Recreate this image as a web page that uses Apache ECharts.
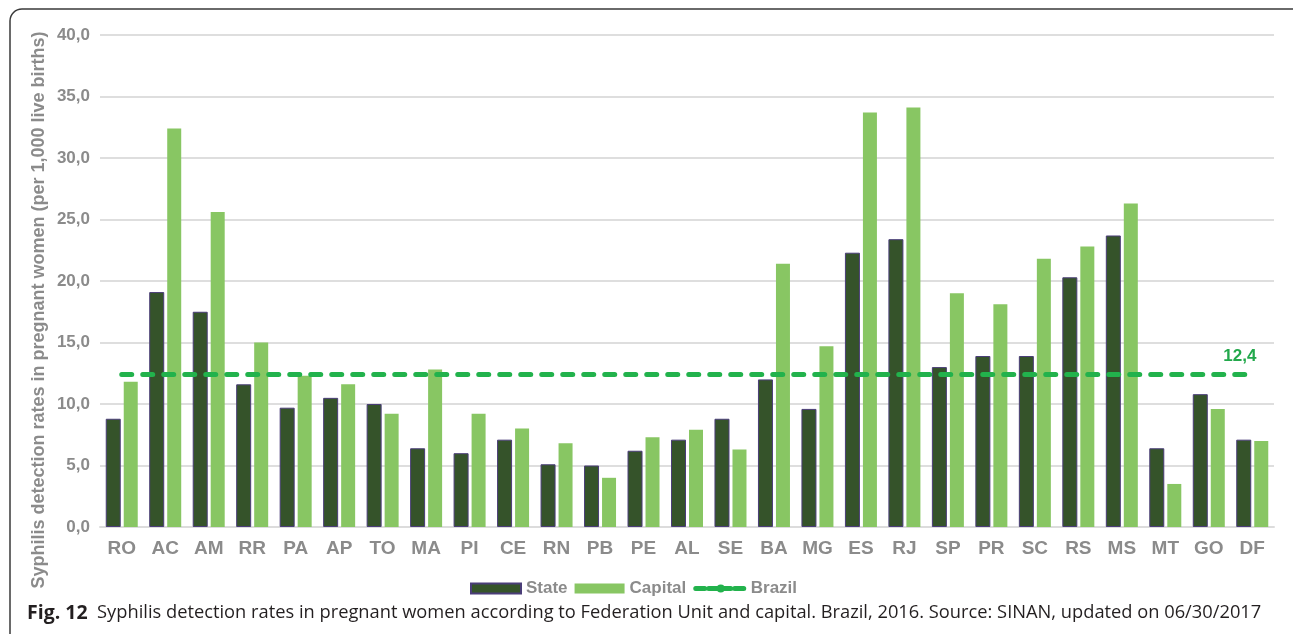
<!DOCTYPE html>
<html>
<head>
<meta charset="utf-8">
<script src="https://cdn.jsdelivr.net/npm/echarts@6/dist/echarts.min.js"></script>
<style>
  html, body { margin: 0; padding: 0; background: #fff; }
  #main { width: 1293px; height: 634px; }
</style>
</head>
<body>
<div id="main"></div>
<script>
// Federation units
var units = ['RO', 'AC', 'AM', 'RR', 'PA', 'AP', 'TO', 'MA', 'PI', 'CE', 'RN', 'PB', 'PE', 'AL', 'SE',
             'BA', 'MG', 'ES', 'RJ', 'SP', 'PR', 'SC', 'RS', 'MS', 'MT', 'GO', 'DF']
var stateRates = [8.8, 19.1, 17.5, 11.6, 9.7, 10.5, 10.0, 6.4, 6.0, 7.1, 5.1, 5.0, 6.2, 7.1, 8.8,
                  12.0, 9.6, 22.3, 23.4, 13.0, 13.9, 13.9, 20.3, 23.7, 6.4, 10.8, 7.1]
var capitalRates = [11.8, 32.4, 25.6, 15.0, 12.3, 11.6, 9.2, 12.8, 9.2, 8.0, 6.8, 4.0, 7.3, 7.9, 6.3,
                    21.4, 14.7, 33.7, 34.1, 19.0, 18.1, 21.8, 22.8, 26.3, 3.5, 9.6, 7.0]
var brazilRate = 12.4

var gray = '#8b8b8b'
var chart = echarts.init(document.getElementById('main'))

chart.setOption({
    backgroundColor: '#ffffff',
    animation: false,
    textStyle: { fontFamily: 'Liberation Sans, Arial, sans-serif' },
    grid: { left: 100, right: 19, top: 35, bottom: 107 },
    legend: {
        top: 575,
        left: 465,
        itemWidth: 50,
        itemHeight: 10,
        itemGap: 7,
        textStyle: { color: gray, fontSize: 17, fontWeight: 'bold' },
        lineStyle: { type: [9, 4], width: 5, cap: 'round' },
        data: [
            { name: 'State', icon: 'rect' },
            { name: 'Capital', icon: 'rect' },
            { name: 'Brazil' }
        ]
    },
    xAxis: {
        type: 'category',
        data: units,
        axisTick: { show: false },
        axisLine: { lineStyle: { color: '#dcdcdc', width: 2 } },
        axisLabel: { color: gray, fontSize: 19, fontWeight: 'bold', margin: 12 }
    },
    yAxis: {
        type: 'value',
        min: 0,
        max: 40,
        interval: 5,
        axisLine: { show: false },
        axisTick: { show: false },
        splitLine: { lineStyle: { color: '#dedede', width: 2 } },
        axisLabel: {
            color: gray, fontSize: 17, fontWeight: 'bold', margin: 10,
            formatter: function (v) { return v.toFixed(1).replace('.', ',') }
        }
    },
    graphic: [
        {
            type: 'rect',
            shape: { x: 10, y: 9, width: 1300, height: 660, r: 12 },
            style: { fill: 'none', stroke: '#3a3a3a', lineWidth: 1.5 },
            silent: true
        },
        {
            type: 'text',
            x: 39, y: 310,
            rotation: Math.PI / 2,
            style: {
                text: 'Syphilis detection rates in pregnant women (per 1,000 live births)',
                fill: gray, font: 'bold 18px Liberation Sans, Arial, sans-serif',
                align: 'center', verticalAlign: 'middle'
            }
        },
        {
            type: 'text',
            left: 27, top: 603,
            style: {
                rich: {
                    b: { fontWeight: 'bold', fontSize: 19.5, fontFamily: 'Open Sans', fill: '#231f20' },
                    n: { fontSize: 18.3, fontFamily: 'Open Sans', fill: '#231f20' }
                },
                text: '{b|Fig. 12}{n|  Syphilis detection rates in pregnant women according to Federation Unit and capital. Brazil, 2016. Source: SINAN, updated on 06/30/2017}'
            }
        }
    ],
    series: [
        {
            name: 'State',
            type: 'bar',
            barWidth: 15,
            barGap: '20%',
            itemStyle: { color: '#35532a', borderColor: '#4a3d78', borderWidth: 1 },
            data: stateRates
        },
        {
            name: 'Capital',
            type: 'bar',
            barWidth: 14,
            itemStyle: { color: '#88c663' },
            data: capitalRates
        },
        {
            name: 'Brazil',
            type: 'line',
            symbol: 'none',
            z: 5,
            lineStyle: { color: '#22b24c', width: 5, type: [10, 11], cap: 'round' },
            itemStyle: { color: '#22b24c' },
            endLabel: {
                show: true,
                offset: [-37, -18],
                color: '#22a84b',
                fontSize: 17,
                fontWeight: 'bold',
                formatter: function (p) { return String(p.value).replace('.', ',') }
            },
            data: units.map(function () { return brazilRate })
        }
    ]
})
</script>
</body>
</html>
